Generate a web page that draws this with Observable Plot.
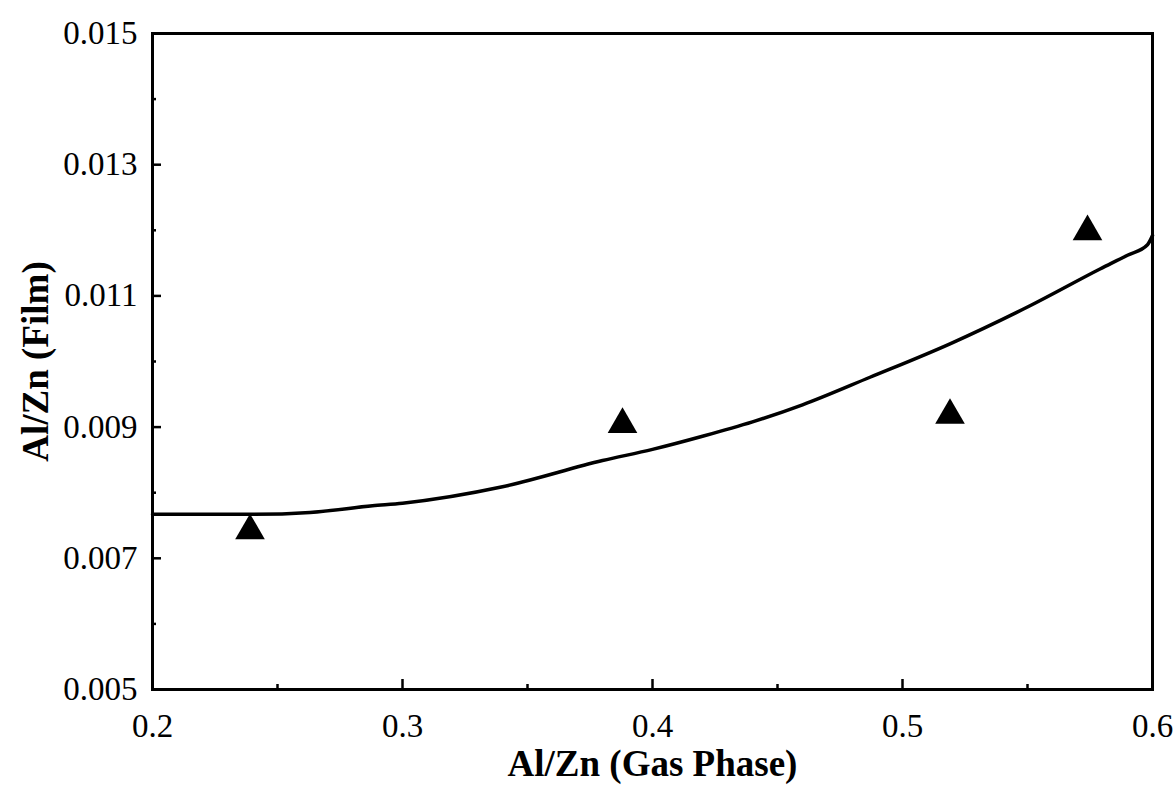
<!DOCTYPE html>
<html>
<head>
<meta charset="utf-8">
<script src="https://cdn.jsdelivr.net/npm/d3@7"></script>
<script src="https://cdn.jsdelivr.net/npm/@observablehq/plot@0.6"></script>
<style>
  html, body { margin: 0; padding: 0; background: #fff; }
  svg { display: block; }
</style>
</head>
<body>
<div id="chart"></div>
<script>
// Measured points (triangles)
const gasPhase = [0.239, 0.388, 0.519, 0.574];
const film = [0.00742, 0.00904, 0.00918, 0.01198];

// Fitted curve
const curveX = [0.2, 0.24, 0.263, 0.288, 0.3, 0.34, 0.38, 0.4, 0.42, 0.44, 0.46, 0.487, 0.519, 0.551, 0.579, 0.59, 0.598, 0.6];
const curveY = [0.00767, 0.00767, 0.00770, 0.00780, 0.00784, 0.00809, 0.00849, 0.00866, 0.00886, 0.00908, 0.00934, 0.00976, 0.01027, 0.01085, 0.01141, 0.01162, 0.01178, 0.01192];

// Ticks
const xTicks = [0.2, 0.3, 0.4, 0.5, 0.6];
const xMinor = [0.25, 0.35, 0.45, 0.55];
const yTicks = [0.005, 0.007, 0.009, 0.011, 0.013, 0.015];
const yMinor = [0.006, 0.008, 0.010, 0.012, 0.014];

const xTitle = "Al/Zn (Gas Phase)";
const yTitle = "Al/Zn (Film)";

const points = gasPhase.map((x, i) => ({x, y: film[i]}));
const curve = curveX.map((x, i) => ({x, y: curveY[i]}));

const W = 1176, H = 796;
const mL = 152, mR = 24, mT = 33, mB = 107;
const plotW = W - mL - mR, plotH = H - mT - mB;

const chart = Plot.plot({
  width: W,
  height: H,
  marginLeft: mL,
  marginRight: mR,
  marginTop: mT,
  marginBottom: mB,
  style: {fontFamily: "'Liberation Serif', 'Times New Roman', serif", fontSize: "33px", color: "black", background: "white"},
  x: {domain: [0.2, 0.6], axis: null},
  y: {domain: [0.005, 0.015], axis: null},
  marks: [
    Plot.axisX(xTicks, {label: null, tickSize: 0, tickPadding: 24, tickFormat: d => d3.format(".1f")(d), fontSize: 33}),
    Plot.axisY(yTicks, {label: null, tickSize: 0, tickPadding: 15, tickFormat: d => d3.format(".3f")(d), fontSize: 33}),
    Plot.tickX(xTicks.slice(1, -1), {x: d => d, insetTop: plotH - 10, stroke: "black", strokeWidth: 2.5}),
    Plot.tickX(xMinor, {x: d => d, insetTop: plotH - 5, stroke: "black", strokeWidth: 2.5}),
    Plot.tickY(yTicks.slice(1, -1), {y: d => d, insetRight: plotW - 9, stroke: "black", strokeWidth: 2.5}),
    Plot.tickY(yMinor, {y: d => d, insetRight: plotW - 4, stroke: "black", strokeWidth: 2.5}),
    Plot.frame({stroke: "black", strokeWidth: 3}),
    Plot.line(curve, {x: "x", y: "y", stroke: "black", strokeWidth: 3.5, curve: "monotone-x"}),
    Plot.dot(points, {x: "x", y: "y", symbol: "triangle", r: 11, fill: "black", stroke: "none"}),
    Plot.text([xTitle], {text: d => d, frameAnchor: "bottom", dy: 86, fontWeight: "bold", fontSize: 37}),
    Plot.text([yTitle], {text: d => d, frameAnchor: "left", textAnchor: "middle", dx: -116, rotate: -90, fontWeight: "bold", fontSize: 37})
  ]
});
document.getElementById("chart").appendChild(chart);
</script>
</body>
</html>
